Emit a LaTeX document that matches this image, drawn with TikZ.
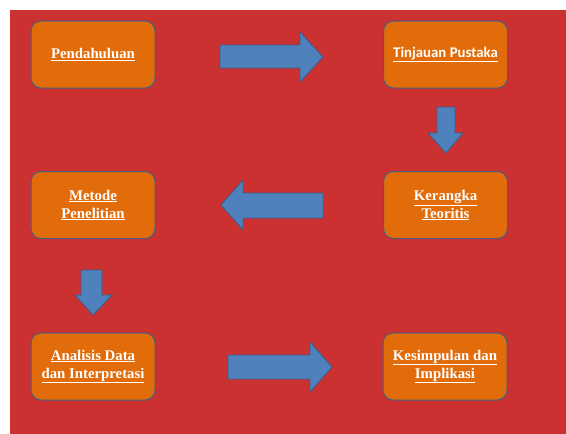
\documentclass[tikz,border=0pt]{standalone}
\usepackage{fontspec}
\setmainfont{Liberation Serif}
\newfontfamily\calfont{Carlito}
\definecolor{bgred}{RGB}{204,49,50}
\definecolor{boxorange}{RGB}{227,108,10}
\definecolor{boxline}{RGB}{70,95,128}
\definecolor{arrblue}{RGB}{79,129,189}
\definecolor{arrline}{RGB}{56,93,138}
\begin{document}
\begin{tikzpicture}[x=1pt,y=-1pt,line join=miter,
  stage/.style={draw=boxline,line width=1pt,fill=boxorange,rounded corners=10pt,
    minimum width=124pt,minimum height=67pt,align=center,text=white,
    font=\fontsize{14.8}{18}\selectfont\bfseries},
  blockarrow/.style={draw=arrline,line width=0.8pt,fill=arrblue}]
\useasboundingbox (0,0) rectangle (566,434);
\fill[white] (0,0) rectangle (566,434);
\fill[bgred] (10,10) rectangle (566,434);
\node[stage] (pend) at (93,54.5) {\underline{Pendahuluan}};
\node[stage] (tinj) at (445.5,54.5) {\calfont\underline{Tinjauan Pustaka}};
\node[stage] (ker) at (445.5,205) {\underline{Kerangka}\\\underline{Teoritis}};
\node[stage] (met) at (93,205) {\underline{Metode}\\\underline{Penelitian}};
\node[stage] (ana) at (93,366.5) {\underline{Analisis Data}\\\underline{dan Interpretasi}};
\node[stage] (kes) at (445,366.5) {\underline{Kesimpulan dan}\\\underline{Implikasi}};
\draw[blockarrow] (220,45)--(300,45)--(300,32)--(323,57)--(300,82)--(300,68)--(220,68)--cycle;
\draw[blockarrow] (437,107)--(455,107)--(455,133)--(463,133)--(446,153)--(428,133)--(437,133)--cycle;
\draw[blockarrow] (323,193)--(243,193)--(243,180)--(221,205)--(243,230)--(243,218)--(323,218)--cycle;
\draw[blockarrow] (81,270)--(102,270)--(102,295)--(112,295)--(93,315)--(75,295)--(81,295)--cycle;
\draw[blockarrow] (228,355)--(310,355)--(310,342)--(332,367)--(310,392)--(310,379)--(228,379)--cycle;
\end{tikzpicture}
\end{document}
